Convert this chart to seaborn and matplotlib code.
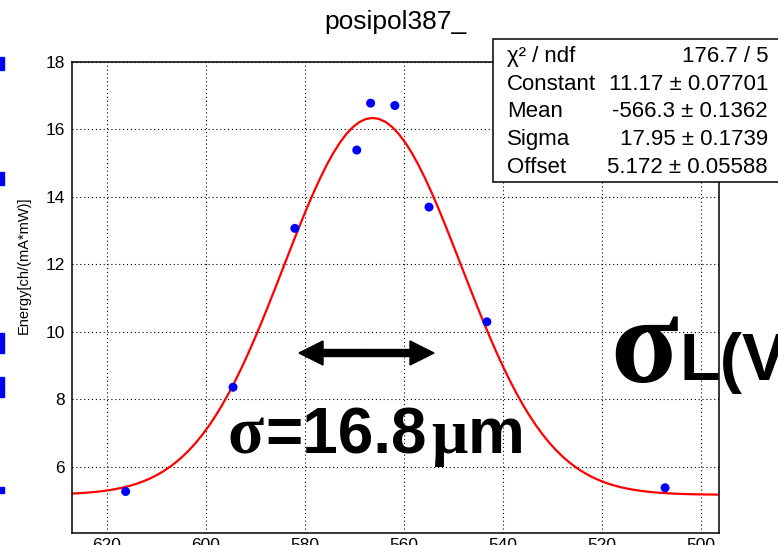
import numpy as np
import seaborn as sns
import matplotlib.pyplot as plt
from matplotlib.patches import FancyArrow, Rectangle
from matplotlib.ticker import MultipleLocator
from matplotlib.transforms import IdentityTransform

# measured points (scan position, energy)
pos_um = [616.2, 594.5, 582.0, 569.5, 566.7, 561.8, 554.9, 543.2, 507.2]
energy = [5.27, 8.36, 13.07, 15.39, 16.78, 16.71, 13.70, 10.30, 5.38]

# gaus + offset fit, as printed in the stats box
fit_names = ['Constant', 'Mean', 'Sigma', 'Offset']
fit_values = [11.17, -566.3, 17.95, 5.172]
fit_errors = ['0.07701', '0.1362', '0.1739', '0.05588']
chi2_ndf = '176.7 / 5'

x_ticks = [620, 600, 580, 560, 540, 520, 500]
y_ticks = [6, 8, 10, 12, 14, 16, 18]

const, mean, sigma, offset = fit_values
x_fit = np.linspace(627.1, 496.3, 100)
y_fit = offset + const * np.exp(-0.5 * ((-x_fit - mean) / sigma) ** 2)

sns.set_style('white')
plt.rcParams['font.family'] = ['Liberation Sans', 'DejaVu Sans']
plt.rcParams['text.color'] = 'black'
plt.rcParams['axes.labelcolor'] = 'black'

W, H = 778, 545
fig = plt.figure(figsize=(W / 100, H / 100), dpi=100)
ax = fig.add_axes([71.7 / W, 12 / H, (719 - 71.7) / W, (533 - 62) / H])

sns.lineplot(x=x_fit, y=y_fit, ax=ax, color='red', lw=1.6, sort=False, estimator=None)
sns.scatterplot(x=pos_um, y=energy, ax=ax, color='blue', s=42, edgecolor='none', zorder=3)

ax.set_xlim(627.1, 496.3)
ax.set_ylim(4.04, 18)
ax.set_xticks(x_ticks)
ax.set_yticks(y_ticks)
ax.xaxis.set_minor_locator(MultipleLocator(5))
ax.yaxis.set_minor_locator(MultipleLocator(0.5))
ax.grid(True, which='major', color='black', ls=(0, (1, 2.5)), lw=0.8)
ax.tick_params(axis='both', which='both', direction='in', colors='black', width=0.9,
               labelsize=12.5, top=False, right=False)
ax.tick_params(axis='x', which='major', length=10.8, pad=3.5)
ax.tick_params(axis='x', which='minor', length=5)
ax.tick_params(axis='y', which='major', length=12.2, pad=5)
ax.tick_params(axis='y', which='minor', length=7.2)
for s in ax.spines.values():
    s.set_color('black')
    s.set_linewidth(1.1)

ax.set_ylabel('Energy[ch/(mA*mW)]', fontsize=10.5)
ax.yaxis.set_label_coords(-0.063, 0.569)

px = IdentityTransform()
fig.text(395, H - 29, 'posipol387_', fontsize=19, ha='center', va='baseline', transform=px)

# stats box
fig.patches.append(Rectangle((493, H - 182), 320, 143, facecolor='white', edgecolor='black',
                             lw=1.1, transform=px, zorder=5))
rows = [('χ² / ndf', chi2_ndf)]
for name, val, err in zip(fit_names, fit_values, fit_errors):
    rows.append((name, f'{val:g} ± {err}'))
for i, (name, val) in enumerate(rows):
    yb = H - (62 + 27.7 * i)
    fig.text(507, yb, name, fontsize=16, ha='left', va='baseline', transform=px, zorder=6)
    fig.text(768, yb, val, fontsize=16, ha='right', va='baseline', transform=px, zorder=6)

# slide overlay: arrow and big labels
for xe in (299, 434):
    fig.patches.append(FancyArrow(366.5, H - 353, xe - 366.5, 0, width=7, head_width=24,
                                  head_length=24, length_includes_head=True, color='black',
                                  transform=px, zorder=7))
serif = 'Liberation Serif'
fig.text(228, H - 453, 'σ', fontsize=48, family=serif, weight='bold', va='baseline', transform=px)
fig.text(265, H - 453, '=16.8', fontsize=46, weight='bold', va='baseline', transform=px)
fig.text(431, H - 453, 'μ', fontsize=46, family=serif, weight='bold', va='baseline', transform=px)
fig.text(468, H - 453, 'm', fontsize=46, weight='bold', va='baseline', transform=px)
fig.text(610, H - 382, 'σ', fontsize=90, family=serif, weight='bold', va='baseline', transform=px)
fig.text(680, H - 380, 'L(V', fontsize=48, weight='bold', va='baseline', transform=px)

# cut-off blue glyphs from the slide at the left edge
for y0, h in [(57, 13), (172, 13), (333, 20), (377, 20), (487, 6)]:
    fig.patches.append(Rectangle((0, H - y0 - h), 4, h, color='blue', transform=px, zorder=2))

fig.savefig('out.png', dpi=100)
